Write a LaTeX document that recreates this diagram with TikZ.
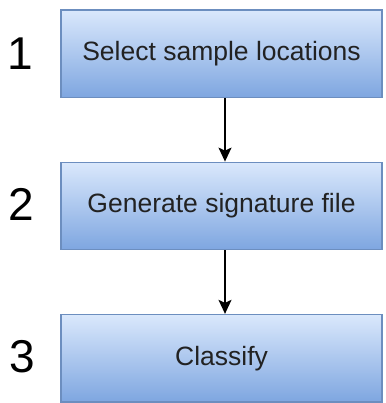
\documentclass[tikz,border=0pt]{standalone}
\usepackage{fontspec}
\setmainfont{Liberation Sans}
\usetikzlibrary{arrows.meta}
\definecolor{boxtop}{HTML}{DAE8FC}
\definecolor{boxbot}{HTML}{7EA6E0}
\definecolor{boxline}{HTML}{6C8EBF}
\definecolor{txt}{HTML}{222222}
\tikzset{
  stepbox/.style={rectangle, draw=boxline, line width=1.3pt, top color=boxtop, bottom color=boxbot,
    minimum width=321pt, minimum height=87.5pt, inner sep=0pt, text=txt,
    font=\fontsize{26.5}{30}\selectfont},
  numlabel/.style={font=\fontsize{46}{52}\selectfont, text=black, inner sep=0pt},
  flow/.style={line width=1.5pt, -{Stealth[length=14pt, width=13pt, inset=3pt]}}
}
\begin{document}
\begin{tikzpicture}[x=1pt, y=-1pt]
\useasboundingbox (0,0) rectangle (385,403);
\node[stepbox] (b1) at (221.5,53.75) {Select sample locations};
\node[stepbox] (b2) at (221.5,206) {Generate signature file};
\node[stepbox] (b3) at (221.5,358.25) {Classify};
\node[numlabel] (n1) at (20,54) {1};
\node[numlabel] (n2) at (21.5,204) {2};
\node[numlabel] (n3) at (22.5,357) {3};
\draw[flow] ([xshift=3.5pt]b1.south) -- ([xshift=3.5pt]b2.north);
\draw[flow] ([xshift=3.5pt]b2.south) -- ([xshift=3.5pt]b3.north);
\end{tikzpicture}
\end{document}
